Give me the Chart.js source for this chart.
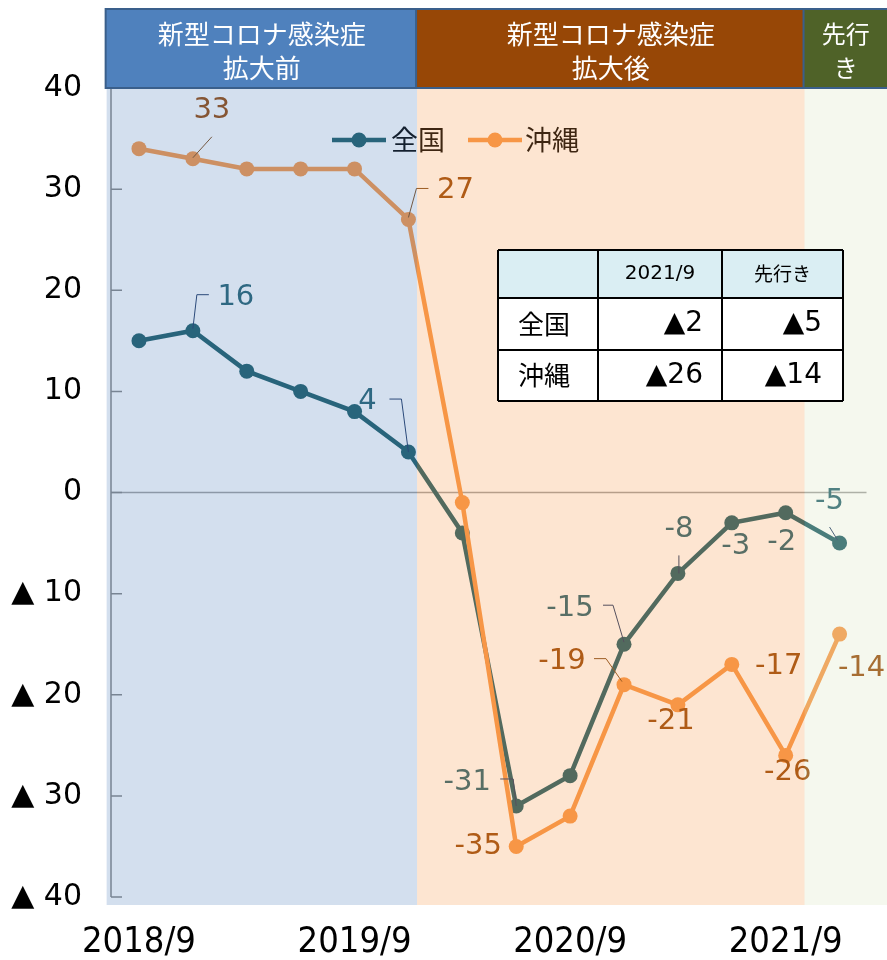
<!DOCTYPE html>
<html>
<head>
    <meta charset="utf-8">
    <title>全国・沖縄 推移</title>
    <script src="https://cdn.jsdelivr.net/npm/chart.js@4.4.2/dist/chart.umd.min.js"></script>
    <style>
        html, body { margin: 0; padding: 0; background: #fff; }
        #wrap { width: 887px; height: 960px; position: relative; }
    </style>
</head>
<body>
<div id="wrap"><canvas id="chart"></canvas></div>
<script>
    // quarterly periods, last one is the outlook
    const periods = ['2018/9', '2018/12', '2019/3', '2019/6', '2019/9', '2019/12', '2020/3',
                     '2020/6', '2020/9', '2020/12', '2021/3', '2021/6', '2021/9', '先行き'];
    const zenkoku = [15, 16, 12, 10, 8, 4, -4, -31, -28, -15, -8, -3, -2, -5];
    const okinawa = [34, 33, 32, 32, 32, 27, -1, -35, -32, -19, -21, -17, -26, -14];
    const seriesNames = ['全国', '沖縄'];
    const xTickIdx = [0, 4, 8, 12];
    const yTicks = [40, 30, 20, 10, 0, -10, -20, -30, -40];

    // shaded periods (in x index units) and their headers
    const phases = [
        { from: -0.6, to: 5.16, title: ['新型コロナ感染症', '拡大前'], fill: '#4F81BD' },
        { from: 5.16, to: 12.35, title: ['新型コロナ感染症', '拡大後'], fill: '#974706' },
        { from: 12.35, to: null, title: ['先行', 'き'], fill: '#4F6228' }
    ];
    const shadeColors = ['rgba(79,129,189,0.25)', 'rgba(247,150,70,0.25)', 'rgba(215,228,189,0.25)'];

    const NUM_FONT = '"DejaVu Sans", "Noto Sans CJK JP", sans-serif';
    const JP_FONT = '"Noto Sans CJK JP", "DejaVu Sans", sans-serif';

    const lineColors = ['#1B5B66', '#F79646'];
    const labelColors = ['#23606F', '#974706'];
    const leaderColors = ['#1F3864', '#7F4A18'];

    // where each data label sits relative to its point (px), optional leader line
    const labelPlacement = [
        {
            1: { dx: 43, dy: -33, leader: [[0, -2], [4, -36], [16, -36]] },
            5: { dx: -41, dy: -51, leader: [[0, 0], [-7, -53], [-19, -53]] },
            7: { dx: -49, dy: -24, leader: [[0, 0], [-3, -27], [-16, -27]] },
            9: { dx: -54, dy: -36, leader: [[0, -2], [-11, -39], [-21, -39]] },
            10: { dx: 1, dy: -44, leader: [[1, 0], [1, -18]] },
            11: { dx: 4, dy: 24 },
            12: { dx: -4, dy: 30 },
            13: { dx: -10, dy: -42, leader: [[-2, -3], [-10, -16]] }
        },
        {
            1: { dx: 19, dy: -48, leader: [[0, -1], [19, -22]] },
            5: { dx: 47, dy: -29, leader: [[0, -2], [8, -31], [20, -31]] },
            7: { dx: -38, dy: 0 },
            9: { dx: -62, dy: -23, leader: [[-2, -3], [-18, -26], [-30, -26]] },
            10: { dx: -7, dy: 17 },
            11: { dx: 47, dy: 2 },
            12: { dx: 2, dy: 17 },
            13: { dx: 22, dy: 34 }
        }
    ];

    function fmtTri(v) {
        return v < 0 ? '▲' + (-v) : String(v);
    }

    const extras = {
        id: 'extras',
        beforeDatasetsDraw(chart) {
            const ctx = chart.ctx, xs = chart.scales.x, ys = chart.scales.y, ca = chart.chartArea;
            ctx.save();
            // zero line
            ctx.strokeStyle = '#A0A0A0';
            ctx.lineWidth = 1.5;
            ctx.beginPath();
            ctx.moveTo(ca.left, ys.getPixelForValue(0));
            ctx.lineTo(xs.getPixelForValue(13.5), ys.getPixelForValue(0));
            ctx.stroke();
            // value axis with inner ticks
            ctx.strokeStyle = '#868686';
            ctx.lineWidth = 1.5;
            ctx.beginPath();
            ctx.moveTo(ca.left, ys.getPixelForValue(40));
            ctx.lineTo(ca.left, ys.getPixelForValue(-40));
            yTicks.forEach(v => {
                const y = ys.getPixelForValue(v);
                ctx.moveTo(ca.left, y);
                ctx.lineTo(ca.left + 11, y);
            });
            ctx.stroke();
            ctx.restore();
        },
        afterDatasetsDraw(chart) {
            const ctx = chart.ctx;
            ctx.save();
            // data labels with leader lines
            chart.data.datasets.forEach((ds, di) => {
                const meta = chart.getDatasetMeta(di);
                Object.keys(labelPlacement[di]).forEach(k => {
                    const i = +k, p = labelPlacement[di][k];
                    const pt = meta.data[i];
                    if (p.leader) {
                        ctx.strokeStyle = leaderColors[di];
                        ctx.lineWidth = 1;
                        ctx.beginPath();
                        p.leader.forEach((d, j) => {
                            const f = j === 0 ? 'moveTo' : 'lineTo';
                            ctx[f](pt.x + d[0], pt.y + d[1]);
                        });
                        ctx.stroke();
                    }
                    ctx.fillStyle = labelColors[di];
                    ctx.font = '29px ' + NUM_FONT;
                    ctx.textAlign = 'center';
                    ctx.textBaseline = 'middle';
                    ctx.fillText(String(ds.data[i].y), pt.x + p.dx, pt.y + p.dy);
                });
            });
            // legend
            const legendItems = [{ x: 332, text: 391 }, { x: 468, text: 525 }];
            legendItems.forEach((it, di) => {
                const y = 140;
                ctx.strokeStyle = lineColors[di];
                ctx.lineWidth = 4.5;
                ctx.beginPath();
                ctx.moveTo(it.x, y);
                ctx.lineTo(it.x + 54, y);
                ctx.stroke();
                ctx.fillStyle = lineColors[di];
                ctx.beginPath();
                ctx.arc(it.x + 27, y, 7.5, 0, Math.PI * 2);
                ctx.fill();
                ctx.fillStyle = '#000';
                ctx.font = '27px ' + JP_FONT;
                ctx.textAlign = 'left';
                ctx.textBaseline = 'middle';
                ctx.fillText(seriesNames[di], it.text, y);
            });
            ctx.restore();
        },
        afterDraw(chart) {
            const ctx = chart.ctx, xs = chart.scales.x, ys = chart.scales.y, ca = chart.chartArea;
            ctx.save();
            const bottom = ys.getPixelForValue(-40) + 8;
            phases.forEach((ph, k) => {
                const x0 = xs.getPixelForValue(ph.from);
                const x1 = ph.to === null ? ca.right : xs.getPixelForValue(ph.to);
                // translucent shading over the plot
                ctx.fillStyle = shadeColors[k];
                ctx.fillRect(x0, ca.top, x1 - x0, bottom - ca.top);
                // header box
                ctx.fillStyle = ph.fill;
                ctx.fillRect(x0 - 1, 9, x1 - x0 + 1, ca.top - 9);
                ctx.strokeStyle = '#3A5F8B';
                ctx.lineWidth = 2;
                ctx.strokeRect(x0 - 1, 9, x1 - x0 + (ph.to === null ? 4 : 1), ca.top - 9);
                ctx.fillStyle = '#fff';
                ctx.font = (ph.to === null ? '24px ' : '26px ') + JP_FONT;
                ctx.textAlign = 'center';
                ctx.textBaseline = 'middle';
                const cx = (x0 + x1) / 2;
                ctx.fillText(ph.title[0], cx, 34);
                ctx.fillText(ph.title[1], cx, 68);
            });

            // summary table
            const cols = [498, 598, 722, 843];
            const rows = [250, 298, 350, 401];
            ctx.fillStyle = '#DAEEF3';
            ctx.fillRect(cols[0], rows[0], cols[3] - cols[0], rows[1] - rows[0]);
            ctx.fillStyle = '#fff';
            ctx.fillRect(cols[0], rows[1], cols[3] - cols[0], rows[3] - rows[1]);
            ctx.strokeStyle = '#000';
            ctx.lineWidth = 2;
            ctx.beginPath();
            cols.forEach(c => { ctx.moveTo(c, rows[0]); ctx.lineTo(c, rows[3]); });
            rows.forEach(r => { ctx.moveTo(cols[0], r); ctx.lineTo(cols[3], r); });
            ctx.stroke();

            ctx.fillStyle = '#000';
            ctx.textBaseline = 'middle';
            ctx.textAlign = 'center';
            ctx.font = '20px ' + NUM_FONT;
            ctx.fillText(periods[12], (cols[1] + cols[2]) / 2, (rows[0] + rows[1]) / 2);
            ctx.font = '19px ' + JP_FONT;
            ctx.fillText(periods[13], (cols[2] + cols[3]) / 2, (rows[0] + rows[1]) / 2);
            [zenkoku, okinawa].forEach((s, r) => {
                const cy = (rows[r + 1] + rows[r + 2]) / 2;
                ctx.textAlign = 'center';
                ctx.font = '26px ' + JP_FONT;
                ctx.fillText(seriesNames[r], (cols[0] + cols[1]) / 2 - 4, cy);
                ctx.textAlign = 'right';
                ctx.font = '28px ' + NUM_FONT;
                ctx.fillText(fmtTri(s[12]), cols[2] - 19, cy);
                ctx.fillText(fmtTri(s[13]), cols[3] - 21, cy);
            });
            ctx.restore();
        }
    };

    const toPts = arr => arr.map((v, i) => ({ x: i, y: v }));

    new Chart(document.getElementById('chart'), {
        type: 'line',
        data: {
            datasets: [zenkoku, okinawa].map((s, di) => ({
                label: seriesNames[di],
                data: toPts(s),
                order: 1 - di,
                borderColor: lineColors[di],
                backgroundColor: lineColors[di],
                pointBackgroundColor: lineColors[di],
                borderWidth: 4.5,
                pointRadius: 7.5,
                pointBorderWidth: 0,
                tension: 0,
                clip: false
            }))
        },
        options: {
            responsive: true,
            maintainAspectRatio: false,
            animation: false,
            layout: { padding: { top: 88, left: 0, right: 0, bottom: 0 }, autoPadding: false },
            plugins: { legend: { display: false }, tooltip: { enabled: false } },
            scales: {
                x: {
                    type: 'linear',
                    min: -0.519,
                    max: 13.88,
                    grid: { display: false, drawTicks: false },
                    border: { display: false },
                    afterBuildTicks: scale => { scale.ticks = xTickIdx.map(v => ({ value: v })); },
                    afterFit: scale => { scale.height = 63; },
                    ticks: {
                        autoSkip: false,
                        maxRotation: 0,
                        padding: 24,
                        color: '#000',
                        font: { family: '"DejaVu Sans Condensed", "Liberation Sans Narrow", "DejaVu Sans", sans-serif', size: 36 },
                        callback: v => periods[v]
                    }
                },
                y: {
                    min: -40,
                    max: 40,
                    grid: { display: false, drawTicks: false },
                    border: { display: false },
                    afterFit: scale => { scale.width = 111; },
                    afterBuildTicks: scale => { scale.ticks = yTicks.map(v => ({ value: v })); },
                    ticks: {
                        padding: 29,
                        color: '#000',
                        font: { family: NUM_FONT, size: 30 },
                        callback: v => v < 0 ? '▲ ' + (-v) : String(v)
                    }
                }
            }
        },
        plugins: [extras]
    });
</script>
</body>
</html>
